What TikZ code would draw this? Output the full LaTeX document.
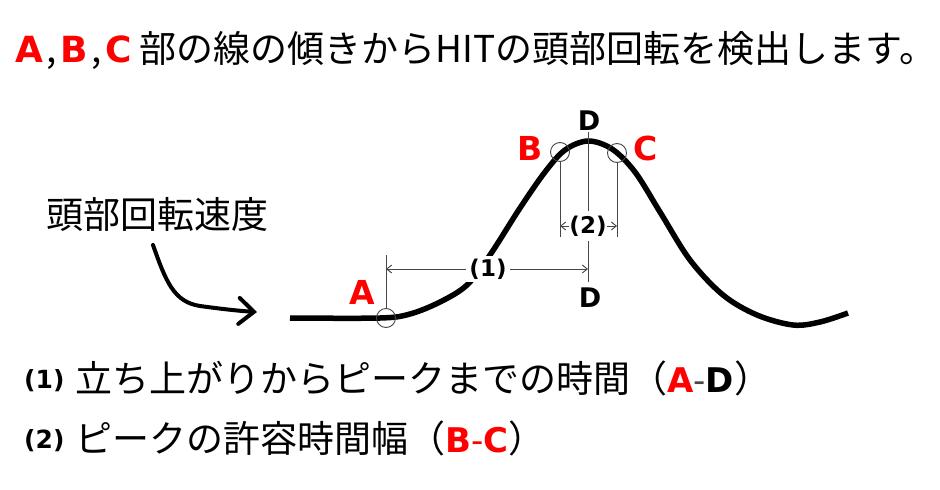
\documentclass[tikz,border=0pt]{standalone}
\usepackage{fontspec}
\setmainfont{Noto Sans CJK JP}
\newfontfamily\lat{DejaVu Sans}
\usetikzlibrary{arrows.meta}
\definecolor{lblred}{RGB}{255,0,0}
\definecolor{dimgray}{RGB}{70,70,70}
\begin{document}
\begin{tikzpicture}[x=1pt,y=-1pt,
  jp/.style={font=\fontsize{37}{37}\selectfont, inner sep=0pt, anchor=base west},
  num/.style={font=\lat\bfseries\fontsize{25}{25}\selectfont, inner sep=0pt, anchor=base west},
  redlbl/.style={font=\lat\bfseries\fontsize{33}{33}\selectfont, text=lblred, inner sep=0pt},
  dlbl/.style={font=\lat\bfseries\fontsize{27}{27}\selectfont, inner sep=0pt},
  dimlbl/.style={font=\lat\bfseries\fontsize{23}{23}\selectfont, fill=white},
  curve/.style={line width=5.5pt},
  dimline/.style={draw=dimgray, line width=0.9pt},
  dimarr/.style={dimline, {Straight Barb[length=5pt,width=8pt]}-{Straight Barb[length=5pt,width=8pt]}},
  ring/.style={circle, draw=dimgray, line width=0.9pt, minimum size=19pt, inner sep=0pt},
  bigarrow/.style={line width=4pt, line cap=round, -{Straight Barb[length=15pt,width=26pt,line width=4pt,line cap=round]}}
]
\useasboundingbox[fill=white] (0,0) rectangle (940,490);

% title
\node[jp] (title) at (15,62) {{\lat\bfseries\fontsize{36}{36}\selectfont\textcolor{lblred}{A}}\hspace{3.5pt},\hspace{3.5pt}{\lat\bfseries\fontsize{36}{36}\selectfont\textcolor{lblred}{B}}\hspace{3.5pt},\hspace{3.5pt}{\lat\bfseries\fontsize{36}{36}\selectfont\textcolor{lblred}{C}} 部の線の傾きからHITの頭部回転を検出します。};

% curve
\draw[curve] plot[smooth, tension=0.55] coordinates {(290,318) (380,318) (410,314) (440,302) (467,285) (490,255) (520,208) (545,172) (565,150) (588,141) (612,149) (635,172) (660,212) (690,260) (723,295) (757,315) (793,325) (820,322) (848,313)};

% coordinates for dimension lines
\coordinate (Atop) at (386,255);
\coordinate (Dtop) at (588,132);
\coordinate (Dbot) at (588,282);
\coordinate (Bbot) at (560,237);
\coordinate (Cbot) at (617,237);
\coordinate (H1a) at (386,269);
\coordinate (H1b) at (588,269);
\coordinate (H2a) at (560,226);
\coordinate (H2b) at (617,226);

% circles
\node[ring] (cA) at (386,318) {};
\node[ring] (cB) at (560,152) {};
\node[ring] (cC) at (617,153) {};

\draw[dimline] (cA.north) -- (Atop);
\draw[dimline] (Dtop) -- (Dbot);
\draw[dimline] (cB.south) -- (Bbot);
\draw[dimline] (cC.south) -- (Cbot);
\draw[dimarr] (H1a) -- (H1b);
\draw[dimarr] (H2a) -- (H2b);

\node[dimlbl, inner xsep=3pt, inner ysep=3pt] (l1) at (488,269) {(1)};
\node[dimlbl, inner xsep=0.5pt, inner ysep=5pt] (l2) at (588,226) {(2)};

% point labels
\node[redlbl] (lA) at (362,292) {A};
\node[redlbl] (lB) at (530,148) {B};
\node[redlbl] (lC) at (646,148) {C};
\node[dlbl] (lDt) at (589,121) {D};
\node[dlbl] (lDb) at (590,298) {D};

% speed label and arrow
\node[jp] (speed) at (46,228) {頭部回転速度};
\coordinate (arrS) at (153,245);
\coordinate (arrE) at (257,312);
\draw[bigarrow] (arrS) .. controls (166,282) and (174,302) .. (200,306) .. controls (222,309) and (240,311) .. (arrE);

% bottom lines
\node[num] (n1) at (24,388) {(1)};
\node[jp] (t1) at (75,392) {立ち上がりからピークまでの時間（{\lat\bfseries\fontsize{34}{34}\selectfont\textcolor{lblred}{A}{\mdseries\color{dimgray}-}D}）};
\node[num] (n2) at (24,448) {(2)};
\node[jp] (t2) at (75,452) {ピークの許容時間幅（{\lat\bfseries\fontsize{34}{34}\selectfont\textcolor{lblred}{B{\mdseries -}C}}）};
\end{tikzpicture}
\end{document}
